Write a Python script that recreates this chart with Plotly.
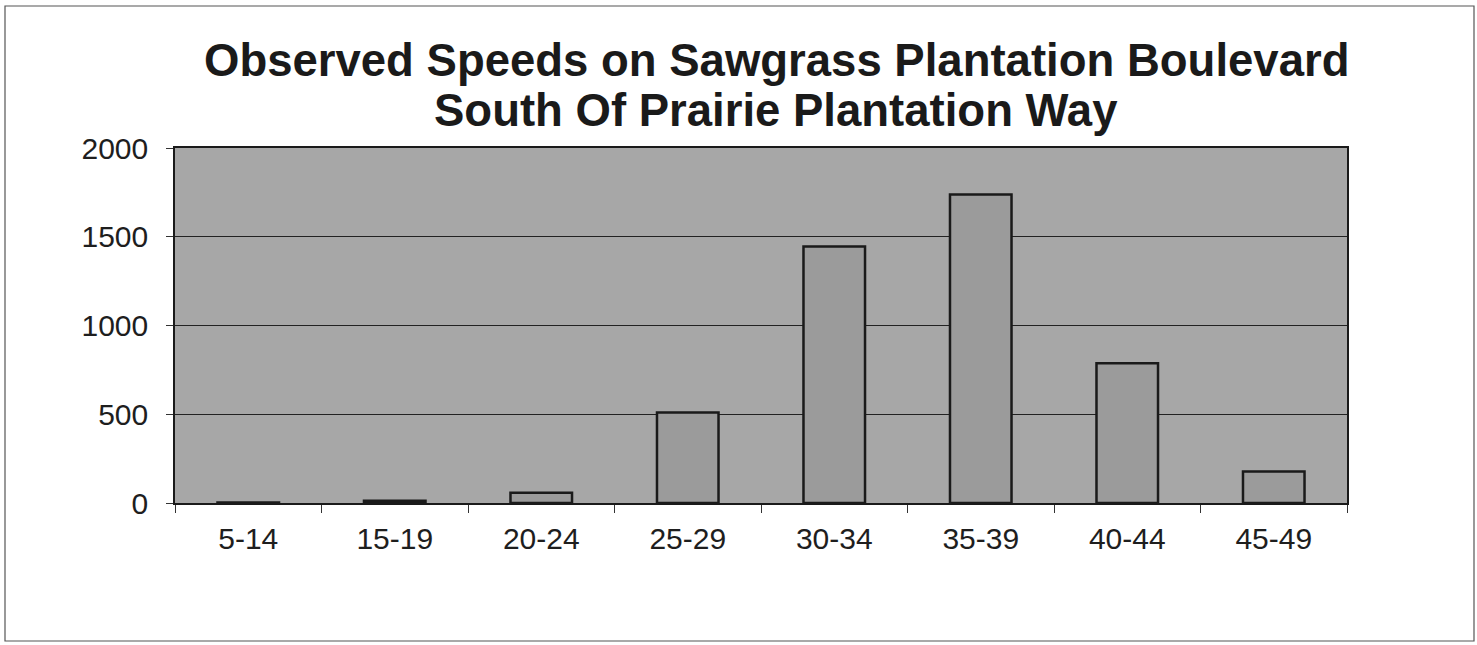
import plotly.graph_objects as go

categories = ["5-14", "15-19", "20-24", "25-29", "30-34", "35-39", "40-44", "45-49"]
counts = [3, 12, 58, 510, 1445, 1738, 788, 177]
y_ticks = [0, 500, 1000, 1500, 2000]
title_line1 = "Observed Speeds on Sawgrass Plantation Boulevard"
title_line2 = "South Of Prairie Plantation Way"

FONT = "Liberation Sans, Arial, Helvetica, sans-serif"

fig = go.Figure()
fig.add_trace(go.Bar(
    x=categories,
    y=counts,
    marker=dict(color="#9b9b9b", line=dict(color="#1a1a1a", width=2.5)),
    hoverinfo="x+y",
))

W, H = 1477, 645
L, R, T, B = 175, 130, 148, 142
pw, ph = W - L - R, H - T - B

def px_x(p):
    return (p - L) / pw

def px_y(p):
    return (H - B - p) / ph

fig.update_layout(
    width=W, height=H,
    margin=dict(l=L, r=R, t=T, b=B, pad=0),
    paper_bgcolor="white",
    plot_bgcolor="#a7a7a7",
    bargap=0.58,
    showlegend=False,
    font=dict(family=FONT, color="#1e1e1e", size=30),
    xaxis=dict(
        type="category",
        showline=True, linecolor="#1a1a1a", linewidth=1.5, mirror=True,
        ticks="outside", tickson="boundaries", ticklen=8, tickcolor="#333",
        tickwidth=1,
        showgrid=False,
        tickfont=dict(size=30, family=FONT, color="#1e1e1e"),
        ticklabelstandoff=8,
    ),
    yaxis=dict(
        range=[0, 2000],
        tickvals=y_ticks,
        ticktext=[str(v) for v in y_ticks],
        showline=True, linecolor="#1a1a1a", linewidth=1.5, mirror=True,
        ticks="outside", ticklen=7, tickcolor="#333", tickwidth=1,
        showgrid=True, gridcolor="#222222", gridwidth=1.4,
        zeroline=False,
        tickfont=dict(size=30, family=FONT, color="#1e1e1e"),
        ticklabelstandoff=12,
    ),
    annotations=[
        dict(text="<b>" + title_line1 + "</b>", xref="paper", yref="paper",
             x=px_x(776), y=px_y(60), xanchor="center", yanchor="middle",
             showarrow=False, font=dict(size=45.5, family=FONT, color="#1a1a1a")),
        dict(text="<b>" + title_line2 + "</b>", xref="paper", yref="paper",
             x=px_x(776), y=px_y(111), xanchor="center", yanchor="middle",
             showarrow=False, font=dict(size=45.5, family=FONT, color="#1a1a1a")),
    ],
    shapes=[
        dict(type="rect", xref="paper", yref="paper",
             x0=px_x(5), x1=px_x(1474), y0=px_y(641), y1=px_y(6),
             line=dict(color="#555555", width=1.2), fillcolor="rgba(0,0,0,0)",
             layer="below"),
    ],
)

fig.write_html("out.html",
               config={"displayModeBar": False},
               post_script="document.body.style.margin='0';document.body.style.overflow='hidden';")
